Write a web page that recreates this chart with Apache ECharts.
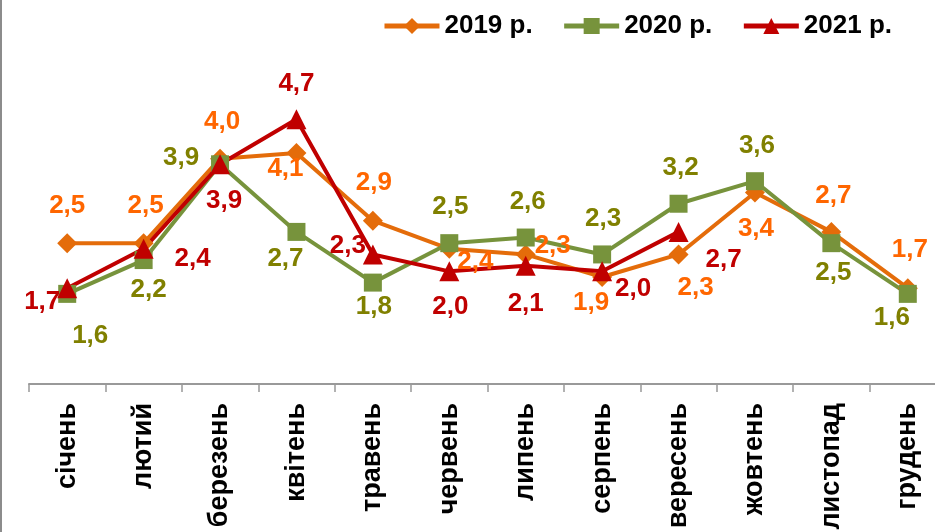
<!DOCTYPE html>
<html>
<head>
<meta charset="utf-8">
<script src="https://cdn.jsdelivr.net/npm/echarts@6/dist/echarts.min.js"></script>
<style>
  html, body { margin: 0; padding: 0; background: #fff; }
  #chart { width: 935px; height: 532px; }
</style>
</head>
<body>
<div id="chart"></div>
<script>
var months = ['січень', 'лютий', 'березень', 'квітень', 'травень', 'червень',
    'липень', 'серпень', 'вересень', 'жовтень', 'листопад', 'грудень'];
var seriesNames = ['2019 р.', '2020 р.', '2021 р.'];
var values2019 = [2.5, 2.5, 4.0, 4.1, 2.9, 2.4, 2.3, 1.9, 2.3, 3.4, 2.7, 1.7];
var values2020 = [1.6, 2.2, 3.9, 2.7, 1.8, 2.5, 2.6, 2.3, 3.2, 3.6, 2.5, 1.6];
var values2021 = [1.7, 2.4, 3.9, 4.7, 2.3, 2.0, 2.1, 2.0, 2.7];

// where each data label sits relative to its point (Excel placed them by hand)
var offsets2019 = [[0, -37], [2, -37], [2, -37], [-11, 16], [1, -38], [26, 13],
    [27, -9], [-11, 26], [17, 33], [1, 36], [2, -36], [2, -38]];
var offsets2020 = [[23, 42], [5, 30], [-39, -6], [-11, 27], [1, 24], [1, -36],
    [2, -36], [1, -36], [2, -36], [2, -35], [2, 30], [-16, 24]];
var offsets2021 = [[-25, 14], [49, 10], [4, 37], [0, -35], [-25, -9], [1, 35],
    [0, 38], [31, 17], [45, 28]];

var FONT = '"Liberation Sans", Arial, sans-serif';

function fmt(v) {
    return v.toFixed(1).replace('.', ',');
}

function points(values, offsets) {
    return values.map(function (v, i) {
        return { value: v, label: { offset: offsets[i] } };
    });
}

function lineSeries(name, values, offsets, lineColor, labelColor, symbol, size) {
    return {
        name: name,
        type: 'line',
        data: points(values, offsets),
        symbol: symbol,
        symbolSize: size,
        showAllSymbol: true,
        color: lineColor,
        lineStyle: { width: 4, color: lineColor },
        itemStyle: { color: lineColor },
        label: {
            show: true,
            position: 'inside',
            color: labelColor,
            fontFamily: FONT,
            fontWeight: 'bold',
            fontSize: 26,
            formatter: function (p) { return fmt(p.value); }
        },
        emphasis: { disabled: true },
        animation: false
    };
}

var chart = echarts.init(document.getElementById('chart'));
chart.setOption({
    backgroundColor: '#fff',
    animation: false,
    graphic: [{
        type: 'line',
        shape: { x1: 1, y1: 0, x2: 1, y2: 532 },
        style: { stroke: '#8c8c8c', lineWidth: 2 }
    }],
    legend: {
        data: seriesNames,
        right: 38,
        top: 8,
        itemWidth: 55,
        itemHeight: 20,
        itemGap: 29,
        lineStyle: { width: 5 },
        textStyle: { fontFamily: FONT, fontWeight: 'bold', fontSize: 26, color: '#000' }
    },
    // the plot runs a little past the right edge of the picture
    grid: { left: 29, width: 917, top: 46, height: 338, outerBoundsMode: 'none' },
    xAxis: {
        type: 'category',
        data: months,
        boundaryGap: true,
        axisLine: { lineStyle: { color: '#999', width: 2 } },
        axisTick: { show: true, length: 8, lineStyle: { color: '#999', width: 1.5 } },
        axisLabel: {
            interval: 0,
            rotate: 90,
            margin: 19,
            color: '#000',
            fontFamily: FONT,
            fontWeight: 'bold',
            fontSize: 27
        }
    },
    yAxis: {
        type: 'value',
        min: 0,
        max: 6,
        show: false,
        splitLine: { show: false }
    },
    series: [
        lineSeries(seriesNames[0], values2019, offsets2019, '#E46C0A', '#FF6600', 'diamond', 20),
        lineSeries(seriesNames[1], values2020, offsets2020, '#77933C', '#808000', 'rect', 18),
        lineSeries(seriesNames[2], values2021, offsets2021, '#C00000', '#C00000', 'triangle', 20)
    ]
});
</script>
</body>
</html>
